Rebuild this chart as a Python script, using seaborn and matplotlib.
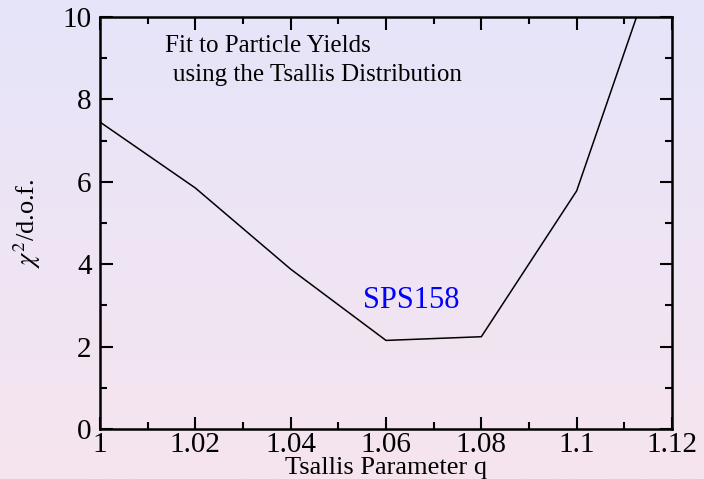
import numpy as np
import pandas as pd
import matplotlib
matplotlib.use("Agg")
import matplotlib.pyplot as plt
from matplotlib.colors import LinearSegmentedColormap
from matplotlib.ticker import MultipleLocator
import seaborn as sns

# Data
q_values = [1.00, 1.02, 1.04, 1.06, 1.08, 1.10, 1.12]
chi2_dof = [7.45, 5.85, 3.88, 2.15, 2.24, 5.78, 12.5]
x_ticks = [1.00, 1.02, 1.04, 1.06, 1.08, 1.10, 1.12]
x_tick_labels = ["1", "1.02", "1.04", "1.06", "1.08", "1.1", "1.12"]
y_ticks = [0, 2, 4, 6, 8, 10]

sns.set_theme(style="ticks")
plt.rcParams["font.family"] = ["Liberation Serif", "DejaVu Serif"]
plt.rcParams["mathtext.fontset"] = "stix"

fig = plt.figure(figsize=(7.04, 4.79), dpi=100)

# gradient background
bg = fig.add_axes([0, 0, 1, 1], zorder=-10)
cmap = LinearSegmentedColormap.from_list("bg", ["#E6E5FA", "#F6E4EE"])
grad = np.linspace(0, 1, 256).reshape(-1, 1)
bg.imshow(grad, aspect="auto", cmap=cmap, extent=[0, 1, 0, 1], origin="upper")
bg.set_axis_off()

ax = fig.add_axes([100 / 704, 50 / 479, 572 / 704, 412 / 479])
ax.set_facecolor("none")

df = pd.DataFrame({"q": q_values, "chi2": chi2_dof})
sns.lineplot(data=df, x="q", y="chi2", color="black", linewidth=1.1, ax=ax)

ax.set_xlim(1.0, 1.12)
ax.set_ylim(0, 10)
ax.set_xticks(x_ticks)
ax.set_xticklabels(x_tick_labels)
ax.set_yticks(y_ticks)
ax.xaxis.set_minor_locator(MultipleLocator(0.01))
ax.yaxis.set_minor_locator(MultipleLocator(1))

for s in ax.spines.values():
    s.set_visible(True)
    s.set_linewidth(1.8)
    s.set_color("black")

ax.tick_params(which="both", direction="in", top=True, right=True,
               colors="black", width=1.5, labelcolor="black")
ax.tick_params(which="major", length=9, labelsize=21)
ax.tick_params(axis="x", which="major", pad=2)
ax.tick_params(axis="y", which="major", pad=6)
ax.tick_params(which="minor", length=5)

ax.set_xlabel("Tsallis Parameter q", fontsize=19, color="black")
ax.xaxis.set_label_coords(0.5, -0.068)
ax.set_ylabel(r"$\chi^2$/d.o.f.", fontsize=19, color="black")
ax.yaxis.set_label_coords(-0.10, 0.5)

ax.text(0.113, 0.915, "Fit to Particle Yields", transform=ax.transAxes,
        fontsize=18, color="black")
ax.text(0.127, 0.845, "using the Tsallis Distribution", transform=ax.transAxes,
        fontsize=18, color="black")
ax.text(1.0552, 2.94, "SPS158", fontsize=22, color="#0000FF")

fig.savefig("out.png", dpi=100)
